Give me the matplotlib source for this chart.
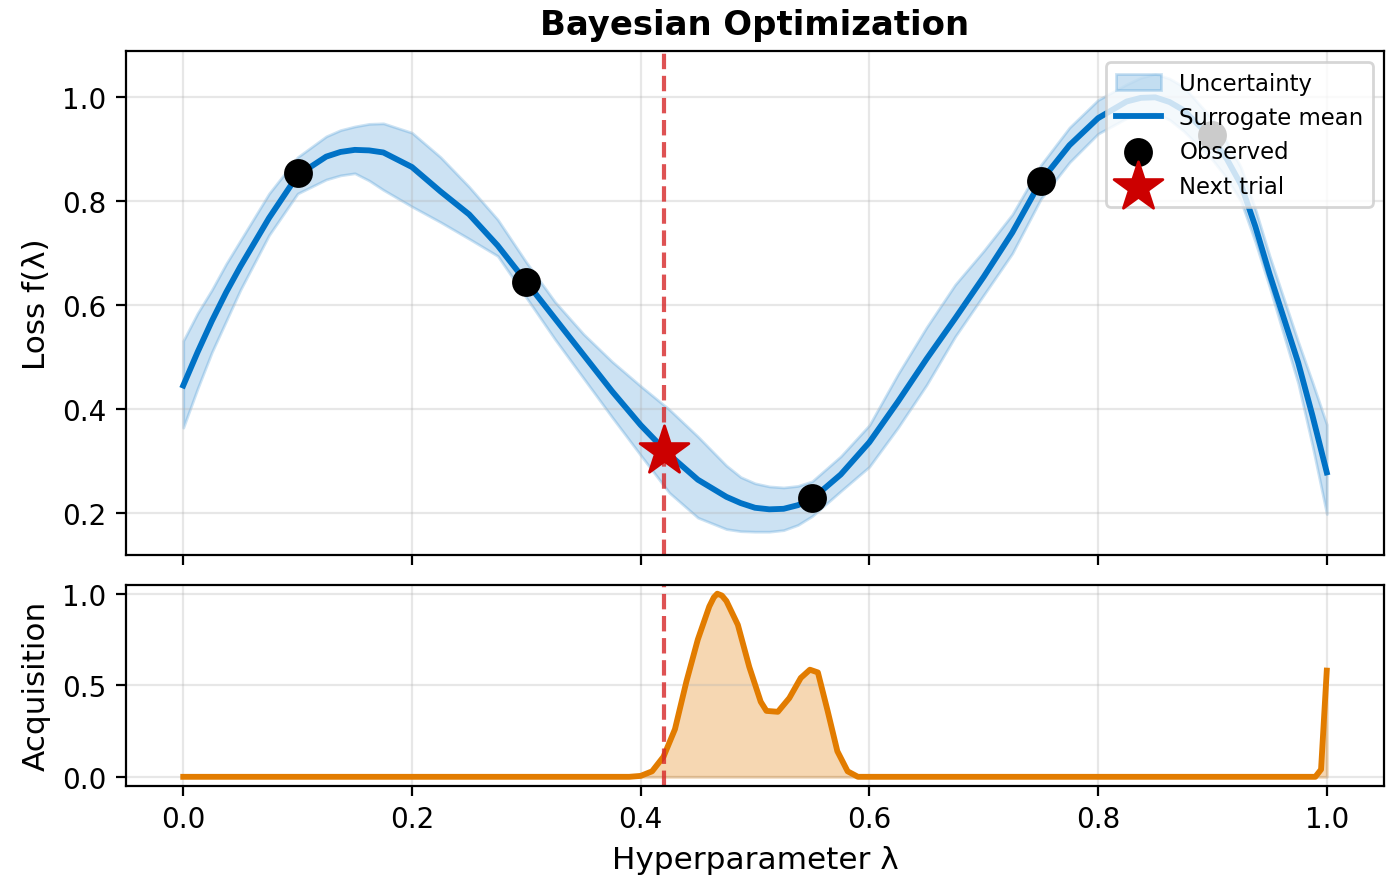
import numpy as np
import matplotlib
matplotlib.use('Agg')
import matplotlib.pyplot as plt

# surrogate model
lam = [0.000, 0.0125, 0.025, 0.0375, 0.050, 0.075, 0.100, 0.125, 0.1375, 0.150,
       0.1625, 0.175, 0.200, 0.225, 0.250, 0.275, 0.300, 0.325, 0.350, 0.375,
       0.400, 0.425, 0.450, 0.475, 0.4875, 0.500, 0.5125, 0.525, 0.5375, 0.550,
       0.575, 0.600, 0.625, 0.650, 0.675, 0.700, 0.725, 0.750, 0.775, 0.800,
       0.825, 0.8375, 0.850, 0.8625, 0.875, 0.900, 0.9125, 0.925, 0.9375, 0.950,
       0.975, 0.9875, 1.000]
mean = [0.446, 0.510, 0.570, 0.625, 0.675, 0.768, 0.850, 0.886, 0.895, 0.899,
        0.898, 0.894, 0.866, 0.819, 0.775, 0.715, 0.645, 0.575, 0.505, 0.435,
        0.370, 0.313, 0.265, 0.232, 0.220, 0.211, 0.208, 0.209, 0.216, 0.228,
        0.275, 0.337, 0.415, 0.497, 0.575, 0.655, 0.740, 0.839, 0.908, 0.960,
        0.992, 0.999, 1.000, 0.991, 0.975, 0.920, 0.882, 0.832, 0.752, 0.660,
        0.490, 0.388, 0.279]
upper = [0.532, 0.585, 0.630, 0.680, 0.725, 0.815, 0.885, 0.925, 0.937, 0.944,
         0.949, 0.950, 0.932, 0.885, 0.828, 0.765, 0.683, 0.607, 0.545, 0.492,
         0.445, 0.400, 0.348, 0.292, 0.270, 0.258, 0.252, 0.250, 0.253, 0.262,
         0.310, 0.370, 0.468, 0.558, 0.640, 0.705, 0.775, 0.870, 0.942, 0.995,
         1.025, 1.038, 1.045, 1.036, 1.020, 0.958, 0.915, 0.865, 0.785, 0.695,
         0.530, 0.452, 0.371]
lower = [0.365, 0.440, 0.510, 0.570, 0.630, 0.735, 0.815, 0.842, 0.850, 0.854,
         0.840, 0.822, 0.790, 0.760, 0.728, 0.695, 0.615, 0.535, 0.460, 0.385,
         0.312, 0.240, 0.192, 0.170, 0.166, 0.165, 0.165, 0.168, 0.178, 0.195,
         0.243, 0.290, 0.365, 0.447, 0.540, 0.620, 0.700, 0.805, 0.875, 0.930,
         0.960, 0.968, 0.970, 0.957, 0.935, 0.880, 0.845, 0.800, 0.722, 0.635,
         0.450, 0.330, 0.199]

obs_x = [0.10, 0.30, 0.55, 0.75, 0.90]
obs_y = [0.855, 0.645, 0.229, 0.839, 0.928]

next_x = 0.42
next_y = 0.32

acq_x = [0.000, 0.390, 0.400, 0.410, 0.420, 0.430, 0.440, 0.450, 0.460, 0.464,
         0.467, 0.471, 0.475, 0.485, 0.495, 0.505, 0.510, 0.520, 0.530, 0.540,
         0.548, 0.555, 0.5635, 0.572, 0.581, 0.590, 0.990, 0.995, 1.000]
acq_y = [0.000, 0.000, 0.005, 0.030, 0.110, 0.260, 0.520, 0.750, 0.930, 0.980,
         1.000, 0.990, 0.960, 0.830, 0.600, 0.410, 0.360, 0.355, 0.430, 0.540,
         0.585, 0.570, 0.360, 0.140, 0.030, 0.000, 0.000, 0.040, 0.580]

blue = '#0072C6'
orange = '#E27C00'
red = '#D62728'

fig, (ax1, ax2) = plt.subplots(2, 1, figsize=(1393 / 200, 879 / 200), dpi=200, sharex=True,
                               gridspec_kw={'height_ratios': [2.5, 1]})
fig.subplots_adjust(left=0.0905, right=0.9935, top=0.9408, bottom=0.1047, hspace=0.085)

ax1.fill_between(lam, lower, upper, color=blue, alpha=0.2, label='Uncertainty')
ax1.plot(lam, mean, color=blue, lw=2.1, label='Surrogate mean')
ax1.scatter(obs_x, obs_y, s=88, color='black', zorder=5, label='Observed')
ax1.scatter([next_x], [next_y], s=340, marker='*', color='#CC0000', zorder=6, label='Next trial')
ax1.axvline(next_x, color=red, ls='--', lw=1.5, alpha=0.8)
ax1.set_ylabel('Loss f(λ)', fontsize=11.2)
ax1.set_title('Bayesian Optimization', fontsize=12.2, fontweight='bold')
ax1.grid(True, alpha=0.3)
ax1.tick_params(labelsize=10)
ax1.legend(loc='upper right', fontsize=8.2)

ax2.fill_between(acq_x, 0, acq_y, color=orange, alpha=0.3)
ax2.plot(acq_x, acq_y, color=orange, lw=2.1)
ax2.axvline(next_x, color=red, ls='--', lw=1.5, alpha=0.8)
ax2.set_ylabel('Acquisition', fontsize=11.2)
ax2.set_xlabel('Hyperparameter λ', fontsize=11.2)
ax2.grid(True, alpha=0.3)
ax2.tick_params(labelsize=10)

plt.savefig('out.png', dpi=200)
